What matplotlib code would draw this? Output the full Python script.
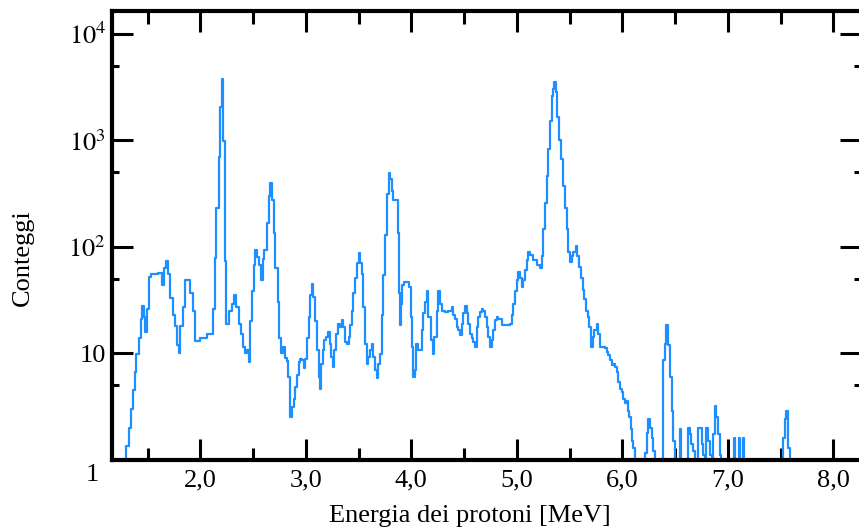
import matplotlib
matplotlib.use("Agg")
import matplotlib.pyplot as plt
from matplotlib.ticker import FixedLocator, NullFormatter

plt.rcParams["font.family"] = ["Liberation Serif", "DejaVu Serif"]
plt.rcParams["mathtext.fontset"] = "stix"

# spectrum: left edge of each step (MeV) and counts
energy = [
  1.285, 1.299, 1.321, 1.344, 1.359, 1.378, 1.394, 1.416, 1.438, 1.448,
  1.463, 1.479, 1.495, 1.510, 1.530, 1.560, 1.600, 1.637, 1.659, 1.678,
  1.694, 1.716, 1.741, 1.763, 1.779, 1.795, 1.810, 1.836, 1.858, 1.905,
  1.931, 1.946, 2.000, 2.063, 2.120, 2.136, 2.152, 2.174, 2.190, 2.205,
  2.218, 2.230, 2.246, 2.268, 2.300, 2.322, 2.341, 2.363, 2.385, 2.404,
  2.426, 2.442, 2.457, 2.473, 2.490, 2.505, 2.521, 2.537, 2.552, 2.571,
  2.590, 2.606, 2.631, 2.647, 2.663, 2.679, 2.694, 2.710, 2.732, 2.748,
  2.764, 2.783, 2.805, 2.820, 2.836, 2.852, 2.868, 2.884, 2.900, 2.915,
  2.931, 2.947, 2.963, 2.979, 2.994, 3.010, 3.026, 3.042, 3.058, 3.073,
  3.089, 3.105, 3.121, 3.130, 3.146, 3.162, 3.177, 3.193, 3.209, 3.225,
  3.241, 3.256, 3.272, 3.288, 3.304, 3.326, 3.342, 3.357, 3.373, 3.389,
  3.405, 3.420, 3.436, 3.452, 3.468, 3.484, 3.500, 3.515, 3.531, 3.547,
  3.563, 3.578, 3.594, 3.610, 3.626, 3.641, 3.657, 3.673, 3.689, 3.705,
  3.720, 3.736, 3.752, 3.768, 3.784, 3.800, 3.815, 3.831, 3.878, 3.888,
  3.897, 3.903, 3.916, 3.935, 3.979, 3.995, 4.004, 4.020, 4.036, 4.045,
  4.061, 4.099, 4.115, 4.131, 4.146, 4.162, 4.184, 4.203, 4.219, 4.241,
  4.257, 4.273, 4.289, 4.320, 4.352, 4.383, 4.399, 4.415, 4.431, 4.447,
  4.462, 4.478, 4.494, 4.510, 4.525, 4.541, 4.557, 4.573, 4.589, 4.604,
  4.620, 4.636, 4.652, 4.668, 4.683, 4.699, 4.715, 4.731, 4.746, 4.762,
  4.778, 4.794, 4.810, 4.825, 4.857, 4.936, 4.952, 4.967, 4.983, 4.999,
  5.015, 5.030, 5.046, 5.062, 5.078, 5.094, 5.109, 5.125, 5.157, 5.188,
  5.220, 5.236, 5.251, 5.267, 5.283, 5.299, 5.315, 5.330, 5.346, 5.356,
  5.368, 5.384, 5.400, 5.419, 5.435, 5.457, 5.472, 5.488, 5.504, 5.520,
  5.536, 5.558, 5.573, 5.589, 5.608, 5.624, 5.640, 5.656, 5.671, 5.687,
  5.703, 5.719, 5.734, 5.756, 5.772, 5.788, 5.835, 5.851, 5.867, 5.883,
  5.898, 5.914, 5.930, 5.946, 5.962, 5.977, 5.993, 6.009, 6.025, 6.041,
  6.056, 6.066, 6.078, 6.088, 6.104, 6.120, 6.214, 6.230, 6.246, 6.261,
  6.277, 6.293, 6.309, 6.388, 6.404, 6.419, 6.435, 6.451, 6.467, 6.482,
  6.498, 6.546, 6.556, 6.624, 6.640, 6.656, 6.672, 6.688, 6.719, 6.751,
  6.767, 6.783, 6.798, 6.814, 6.830, 6.846, 6.861, 6.877, 6.893, 6.909,
  6.924, 6.940, 7.060, 7.068, 7.107, 7.115, 7.145, 7.153, 7.524, 7.540,
  7.556, 7.572, 7.588, 7.600,
]
counts = [
  0, 1.35, 2.0, 3.0, 4.5, 6.7, 9.9, 14, 21, 28,
  22, 16, 26, 52, 55, 56, 57, 44, 63, 73,
  56, 33, 23, 18, 12, 10, 18, 27, 49, 37,
  25, 13, 14, 15, 26, 78, 232, 690, 2030, 3760,
  980, 73, 19, 25, 29, 35, 27, 19, 15, 11.5,
  10, 10.7, 8.3, 20, 38, 68, 94, 80, 68, 49,
  76, 94, 167, 298, 400, 277, 134, 63, 30, 14,
  10, 11.5, 9, 8.5, 6.0, 2.5, 3.1, 3.7, 4.8, 6.2,
  8.3, 8.9, 8.6, 7.2, 8.9, 14, 22, 35, 45, 34,
  20, 10.7, 6.0, 4.6, 8.0, 10.7, 13.3, 14.3, 16, 12.3,
  9.2, 7.4, 10.7, 15.3, 19, 17.7, 20.5, 17.7, 12.8, 12.3,
  14.3, 18.4, 25, 37, 51, 70, 87, 70, 56, 27,
  12.3, 8.0, 9.2, 10.7, 12.3, 9.2, 6.9, 5.8, 8.0, 9.9,
  23, 54, 130, 310, 495, 429, 331, 277, 134, 37,
  18.4, 29, 44, 47, 42, 22, 11.5, 6.0, 6.9, 12.3,
  10.7, 16.5, 24, 30, 38, 22, 13.3, 9.9, 14.3, 25,
  38, 29, 25, 24.5, 25, 27, 23, 21, 17.7, 16.5,
  14.8, 19, 24, 28, 24, 19, 15.3, 13.8, 12.8, 11.5,
  17.7, 22, 24.5, 26, 25, 22, 17.7, 14.3, 11.5, 13.3,
  16.5, 20.5, 22, 21, 18.4, 19, 23, 29, 38, 49,
  58, 51, 42, 49, 61, 75, 90, 84, 75, 68,
  63, 81, 145, 258, 460, 822, 1520, 2620, 3030, 3500,
  2820, 1640, 1000, 660, 371, 232, 145, 90, 72, 81,
  90, 101, 81, 65, 51, 39, 32, 25, 22, 17.7,
  11.5, 14.3, 16.5, 19, 15.3, 11.5, 11.1, 10.3, 9.6, 8.6,
  7.7, 8.0, 7.4, 6.7, 5.4, 4.6, 4.3, 3.7, 3.4, 3.6,
  2.9, 2.5, 1.95, 1.5, 1.3, 0, 1.17, 1.8, 2.4, 2.0,
  1.6, 1.2, 0, 8.6, 12.3, 18.4, 11.9, 6.0, 2.9, 1.5,
  0, 1.95, 0, 2.0, 1.75, 1.4, 1.2, 0, 2.0, 1.4,
  1.1, 0, 2.0, 1.5, 1.1, 0, 1.75, 3.2, 2.5, 1.75,
  1.1, 0, 1.6, 0, 1.6, 0, 1.6, 0, 1.6, 2.4,
  2.9, 1.3, 0, 0,
]

x_major = [2, 3, 4, 5, 6, 7, 8]
x_major_labels = ["2,0", "3,0", "4,0", "5,0", "6,0", "7,0", "8,0"]
x_minor = [1.5, 2.5, 3.5, 4.5, 5.5, 6.5, 7.5]
y_major = [10, 100, 1000, 10000]
y_major_labels = ["10", "$10^{2}$", "$10^{3}$", "$10^{4}$"]
y_minor = [5, 50, 500, 5000]

FS = 19

fig = plt.figure(figsize=(8.59, 5.31), dpi=100)
ax = fig.add_axes([0.130, 0.134, 0.872, 0.846])

ax.plot(energy, counts, drawstyle="steps-post", color="#1e8fff", lw=1.6)

ax.set_yscale("log", nonpositive="clip")
ax.set_xlim(1.16, 8.26)
ax.set_ylim(1, 16400)

ax.xaxis.set_major_locator(FixedLocator(x_major))
ax.set_xticklabels(x_major_labels)
ax.xaxis.set_minor_locator(FixedLocator(x_minor))
ax.xaxis.set_minor_formatter(NullFormatter())
ax.yaxis.set_major_locator(FixedLocator(y_major))
ax.set_yticklabels(y_major_labels)
ax.yaxis.set_minor_locator(FixedLocator(y_minor))
ax.yaxis.set_minor_formatter(NullFormatter())

ax.tick_params(which="both", direction="in", top=True, right=True, labelsize=FS)
ax.tick_params(axis="x", which="major", length=15, width=2.2, pad=7)
ax.tick_params(axis="x", which="minor", length=9, width=2.2)
ax.tick_params(axis="y", which="major", length=15, width=2.2, pad=4)
ax.tick_params(axis="y", which="minor", length=5, width=2.2)

for s in ax.spines.values():
  s.set_linewidth(3)

# the lone "1" under the y axis
fig.text(92 / 859, 1 - 475 / 531, "1", ha="center", va="center", fontsize=FS)

ax.set_xlabel("Energia dei protoni [MeV]", fontsize=FS)
ax.set_ylabel("Conteggi", fontsize=FS)
ax.xaxis.label.set_va("center")
ax.yaxis.label.set_va("center")
ax.xaxis.set_label_coords(0.478, -0.125)
ax.yaxis.set_label_coords(-0.119, 0.45)

fig.savefig("out.png", dpi=100)
